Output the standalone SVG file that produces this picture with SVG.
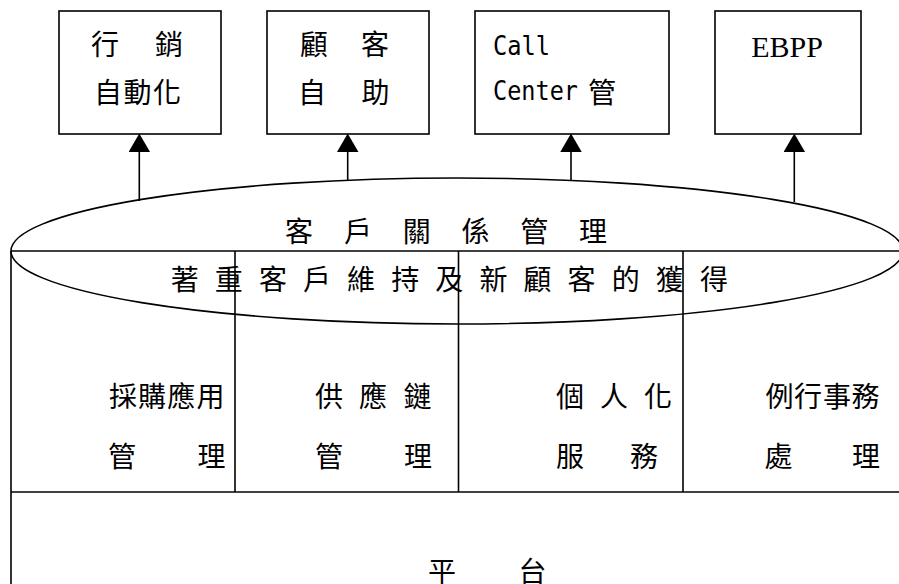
<svg xmlns="http://www.w3.org/2000/svg" width="899" height="584" viewBox="0 0 899 584">
<style>
.ln{stroke:#000;stroke-width:1.6;fill:none}
.cj{font-family:"Noto Sans CJK TC","Noto Sans CJK SC",sans-serif;font-size:28px;fill:#000;text-anchor:middle}
.mono{font-family:"DejaVu Sans Mono","Liberation Mono",monospace;font-size:27px;fill:#000}
.ser{font-family:"Liberation Serif",serif;font-size:30px;fill:#000;text-anchor:middle}
</style>
<defs>
<marker id="ah" markerUnits="userSpaceOnUse" markerWidth="19" markerHeight="22" refX="0" refY="10.75" orient="auto" viewBox="0 0 19 22">
<path d="M0,0 L18.5,10.75 L0,21.5 z" fill="#000"/>
</marker>
</defs>
<rect width="899" height="584" fill="#fff"/>

<g id="box-marketing">
<rect class="ln" x="59" y="11" width="162" height="123"/>
<text class="cj" y="55"><tspan x="105">行</tspan><tspan x="169">銷</tspan></text>
<text class="cj" y="103"><tspan x="108">自</tspan><tspan x="137.5">動</tspan><tspan x="167">化</tspan></text>
</g>
<g id="box-selfservice">
<rect class="ln" x="267" y="11" width="162" height="123"/>
<text class="cj" y="55"><tspan x="314">顧</tspan><tspan x="375">客</tspan></text>
<text class="cj" y="103"><tspan x="312">自</tspan><tspan x="375.5">助</tspan></text>
</g>
<g id="box-callcenter">
<rect class="ln" x="475" y="11" width="194" height="123"/>
<text class="mono" x="493" y="55" textLength="57" lengthAdjust="spacingAndGlyphs">Call</text>
<text class="mono" x="493" y="99.5" textLength="85" lengthAdjust="spacingAndGlyphs">Center</text>
<text class="cj" x="602" y="103">管</text>
</g>
<g id="box-ebpp">
<rect class="ln" x="715" y="11" width="146" height="123"/>
<text class="ser" x="787" y="56.5">EBPP</text>
</g>

<g id="connectors">
<line class="ln" x1="139.3" y1="201" x2="139.3" y2="152" marker-end="url(#ah)"/>
<line class="ln" x1="347.7" y1="181" x2="347.7" y2="152" marker-end="url(#ah)"/>
<line class="ln" x1="571" y1="181" x2="571" y2="152" marker-end="url(#ah)"/>
<line class="ln" x1="794.3" y1="202" x2="794.3" y2="152" marker-end="url(#ah)"/>
</g>

<g id="table">
<line class="ln" x1="11" y1="251" x2="899" y2="251"/>
<line class="ln" x1="11" y1="251" x2="11" y2="584"/>
<line class="ln" x1="235" y1="251" x2="235" y2="492"/>
<line class="ln" x1="458.5" y1="251" x2="458.5" y2="492"/>
<line class="ln" x1="683" y1="251" x2="683" y2="492"/>
<line class="ln" x1="11" y1="492" x2="899" y2="492"/>
</g>

<g id="crm">
<ellipse class="ln" cx="457" cy="251" rx="446" ry="73"/>
<text class="cj" y="241.5"><tspan x="299.1">客</tspan><tspan x="357.9">戶</tspan><tspan x="416.7">關</tspan><tspan x="475.5">係</tspan><tspan x="534.3">管</tspan><tspan x="593.1">理</tspan></text>
<text class="cj" y="290"><tspan x="184.7">著</tspan><tspan x="228.8">重</tspan><tspan x="272.9">客</tspan><tspan x="317">戶</tspan><tspan x="361.1">維</tspan><tspan x="405.2">持</tspan><tspan x="449.3">及</tspan><tspan x="493.4">新</tspan><tspan x="537.5">顧</tspan><tspan x="581.6">客</tspan><tspan x="625.7">的</tspan><tspan x="669.8">獲</tspan><tspan x="713.9">得</tspan></text>
</g>

<g id="procurement">
<text class="cj" y="406.5"><tspan x="122.9">採</tspan><tspan x="152.1">購</tspan><tspan x="181.3">應</tspan><tspan x="210.5">用</tspan></text>
<text class="cj" y="466.5"><tspan x="122">管</tspan><tspan x="211.5">理</tspan></text>
</g>
<g id="supplychain">
<text class="cj" y="406.5"><tspan x="329">供</tspan><tspan x="373">應</tspan><tspan x="417.5">鏈</tspan></text>
<text class="cj" y="466.5"><tspan x="329">管</tspan><tspan x="418">理</tspan></text>
</g>
<g id="personalization">
<text class="cj" y="406.5"><tspan x="570">個</tspan><tspan x="614">人</tspan><tspan x="658">化</tspan></text>
<text class="cj" y="466.5"><tspan x="570">服</tspan><tspan x="644">務</tspan></text>
</g>
<g id="routine">
<text class="cj" y="406.5"><tspan x="779.4">例</tspan><tspan x="808.1">行</tspan><tspan x="836.9">事</tspan><tspan x="865.6">務</tspan></text>
<text class="cj" y="466.5"><tspan x="778.5">處</tspan><tspan x="866">理</tspan></text>
</g>
<g id="platform">
<text class="cj" y="582"><tspan x="442">平</tspan><tspan x="532.5">台</tspan></text>
</g>
</svg>
